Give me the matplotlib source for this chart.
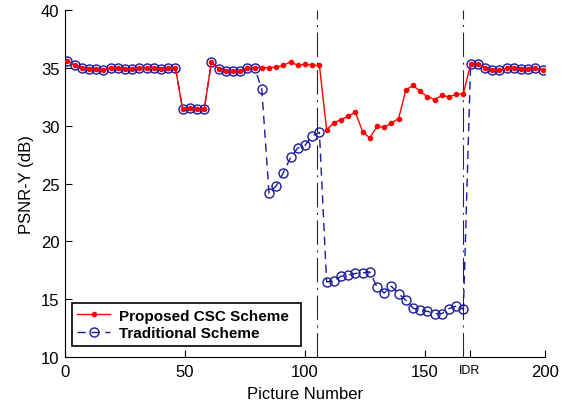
import matplotlib
matplotlib.use("Agg")
import matplotlib.pyplot as plt

# =================== DADOS ===================
picture = [1, 4, 7, 10, 13, 16, 19, 22, 25, 28, 31, 34, 37, 40, 43, 46,
           49, 52, 55, 58,
           61, 64, 67, 70, 73, 76, 79,
           82, 85, 88, 91, 94, 97, 100, 103, 106,
           109, 112, 115, 118, 121, 124, 127, 130, 133, 136,
           139, 142, 145, 148, 151, 154, 157, 160, 163, 166,
           169, 172, 175, 178, 181, 184, 187, 190, 193, 196, 199]

proposed_csc = [35.6, 35.2, 35.0, 34.9, 34.9, 34.8, 35.0, 35.0, 34.9, 34.9, 35.0, 35.0, 35.0, 34.85, 35.0, 35.0,
                31.4, 31.5, 31.4, 31.4,
                35.5, 34.9, 34.7, 34.7, 34.7, 35.0, 35.0,
                35.0, 35.0, 35.05, 35.2, 35.5, 35.2, 35.3, 35.2, 35.2,
                29.65, 30.23, 30.52, 30.81, 31.15, 29.48, 28.93, 29.94, 29.85, 30.23,
                30.61, 33.06, 33.47, 32.97, 32.49, 32.25, 32.6, 32.49, 32.69, 32.77,
                35.29, 35.35, 35.0, 34.77, 34.77, 34.94, 34.97, 34.91, 34.85, 34.97, 34.77]

traditional = [35.6, 35.2, 35.0, 34.9, 34.9, 34.8, 35.0, 35.0, 34.9, 34.9, 35.0, 35.0, 35.0, 34.85, 35.0, 35.0,
               31.4, 31.5, 31.4, 31.4,
               35.5, 34.9, 34.7, 34.7, 34.7, 35.0, 35.0,
               33.12, 24.17, 24.8, 25.95, 27.25, 28.07, 28.29, 29.13, 29.42,
               16.51, 16.59, 17.0, 17.09, 17.24, 17.29, 17.37, 16.07, 15.55, 16.13,
               15.5, 14.92, 14.25, 14.05, 13.97, 13.77, 13.77, 14.2, 14.43, 14.14,
               35.29, 35.35, 35.0, 34.77, 34.77, 34.94, 34.97, 34.91, 34.85, 34.97, 34.77]

# troca de cena e quadro IDR
marcadores_x = [105, 165.7]

xticks = [0, 50, 100, 150, 168.7, 200]
xtick_labels = ['0', '50', '100', '150', 'IDR', '200']
yticks = [10, 15, 20, 25, 30, 35, 40]

# =================== FIGURA ===================
plt.rcParams['font.family'] = ['Liberation Sans', 'DejaVu Sans']

fig = plt.figure(figsize=(5.63, 4.06), dpi=100)
ax = fig.add_axes([0.1155, 0.1175, 0.8525, 0.856])

for xv in marcadores_x:
    ax.axvline(xv, color='0.15', linestyle=(0, (22, 5, 1.8, 5)), linewidth=0.8, zorder=1)

cor_azul = '#1a1a9c'
l_trad, = ax.plot(picture, traditional, color=cor_azul, linestyle=(0, (6, 4)), linewidth=1.0,
                  marker='o', markersize=6.5, markerfacecolor='none', markeredgecolor=cor_azul,
                  markeredgewidth=1.0, zorder=2)
l_prop, = ax.plot(picture, proposed_csc, color='red', linestyle='-', linewidth=1.0,
                  marker='.', markersize=6, zorder=3)

ax.set_xlim(0, 200)
ax.set_ylim(10, 40)
ax.set_xticks(xticks)
ax.set_xticklabels(xtick_labels)
ax.set_yticks(yticks)
ax.tick_params(direction='in', length=5, labelsize=12, width=0.8)
ax.tick_params(axis='x', pad=5)
ax.tick_params(axis='y', pad=4)
for lbl in ax.get_xticklabels():
    if lbl.get_text() == 'IDR':
        lbl.set_fontsize(9)

for s in ['top', 'right']:
    ax.spines[s].set_visible(False)

ax.set_xlabel('Picture Number', fontsize=12, labelpad=5)
ax.set_ylabel('PSNR-Y (dB)', fontsize=12, labelpad=5)

leg = ax.legend([l_prop, l_trad], ['Proposed CSC Scheme', 'Traditional Scheme'],
                loc='lower left', bbox_to_anchor=(0.014, 0.033, 0.477, 0.115), mode='expand',
                borderaxespad=0, prop={'weight': 'bold', 'size': 11}, fancybox=False,
                framealpha=1, edgecolor='black', handlelength=2.15, handletextpad=0.6,
                borderpad=0.35, labelspacing=0.25)
leg.get_frame().set_linewidth(1.2)

fig.savefig('out.png', dpi=100)
